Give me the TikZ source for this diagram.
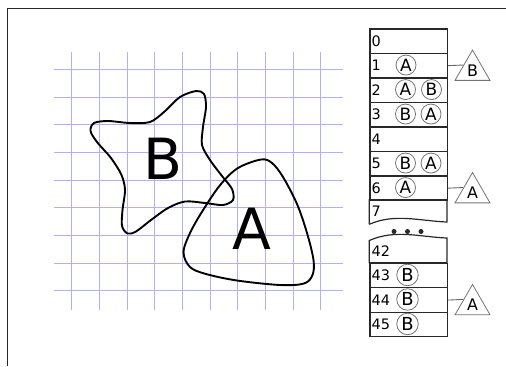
\documentclass[tikz,border=0pt]{standalone}
\usepackage{fontspec}
\setmainfont{DejaVu Sans}
\usetikzlibrary{shapes.geometric}
\definecolor{gridc}{RGB}{175,175,250}
\definecolor{tabc}{RGB}{40,40,40}
\tikzset{
  gridline/.style={draw=gridc, line width=1bp},
  blob/.style={draw=black, line width=1.9pt},
  bigletter/.style={inner sep=0pt, font=\fontsize{57}{57}\selectfont},
  cellbox/.style={draw=tabc, line width=1.2pt, minimum width=77.7bp, minimum height=24.5bp, inner sep=0pt, anchor=north west},
  tableline/.style={draw=tabc, line width=1.2pt},
  numlbl/.style={anchor=west, inner sep=0pt, font=\fontsize{14.5}{15}\selectfont},
  ball/.style={circle, draw=black!55, line width=0.8pt, minimum size=20bp, inner sep=0pt, font=\fontsize{17}{17}\selectfont},
  bigball/.style={ball, minimum size=21.5bp, font=\fontsize{18}{18}\selectfont},
  tri/.style={regular polygon, regular polygon sides=3, draw=black!55, line width=0.8pt, minimum size=40.4bp, inner sep=0pt, font=\fontsize{16}{16}\selectfont},
  link/.style={draw=black!60, line width=0.9pt},
  dotc/.style={circle, fill=tabc, minimum size=5bp, inner sep=0pt}
}
\begin{document}
\begin{tikzpicture}[x=1bp,y=-1bp]
\useasboundingbox (0,0) rectangle (506,366);
% frame
\draw[draw=tabc, line width=1bp] (7.5,366) -- (7.5,8.5) -- (506,8.5);
% grid
\foreach \x in {71.5,99.5,127.5,154.5,182.5,210.5,237.5,265.5,293.5,320.5}
  \draw[gridline] (\x,51.7) -- (\x,310);
\foreach \y in {69.5,97.5,124.5,152.5,180.5,207.5,235.5,263.5,290.5}
  \draw[gridline] (54,\y) -- (343,\y);
% star B
\draw[blob] plot[smooth cycle, tension=0.5] coordinates {
 (196,91) (180,97) (164,112) (150,122) (130,123) (108,121) (94,123) (90.5,131)
 (97,142) (111,158) (121.5,175) (125,190) (122.5,210) (122,226) (127.5,233.5) (136,231.5)
 (151,220) (168,208) (185,201.5) (205,203) (223,205) (233,200) (232,189) (222,176)
 (210,160) (202,145) (203,127) (206,107) (204,94)};
% rounded triangle A
\draw[blob] plot[smooth cycle, tension=0.55] coordinates {
 (261,159.5) (238,168) (221,184) (205,207) (191,231) (183.5,252) (190,267) (206,274)
 (237,280.5) (280,285) (304,283.5) (312.5,275) (313.5,260) (307,233) (297,204)
 (283,177) (272,163)};
\node[bigletter] (bigB) at (163.3,159) {B};
\node[bigletter] (bigA) at (251.7,229) {A};
% table upper block
\foreach \k in {0,...,6} \node[cellbox] (r\k) at (369.3,{28.3+24.5*\k}) {};
\draw[tableline] (369.3,224.3) -- (369.3,199.8) -- (447,199.8) -- (447,222)
  .. controls (420,221) and (395,213) .. (369.3,224.3);
\foreach \k in {0,...,6} \node[numlbl] (l\k) at ([xshift=2.2bp]r\k.west) {\k};
\node[numlbl] (l7) at (371.5,211.5) {7};
% dots
\node[dotc] (d1) at (394,231.5) {};
\node[dotc] (d2) at (407.5,231.5) {};
\node[dotc] (d3) at (421,231.5) {};
% lower block
\draw[tableline] (369.3,262.7) -- (369.3,240.5)
  .. controls (395,229) and (420,237) .. (447,238) -- (447,262.7) -- cycle;
\node[numlbl] (l42) at (371.5,251) {42};
\foreach \k/\n in {0/43,1/44,2/45} \node[cellbox] (r\n) at (369.3,{262.7+24.5*\k}) {};
\foreach \n in {43,44,45} \node[numlbl] (l\n) at ([xshift=2.2bp]r\n.west) {\n};
% circles
\node[ball] (c1a) at (406,65.05) {A};
\node[ball] (c2a) at (405.5,89.55) {A};
\node[ball] (c2b) at (431.5,89.55) {B};
\node[ball] (c3b) at (405.5,114.05) {B};
\node[ball] (c3a) at (431,114.05) {A};
\node[ball] (c5b) at (405.5,163.05) {B};
\node[ball] (c5a) at (431,163.05) {A};
\node[ball] (c6a) at (405.5,187.55) {A};
\node[bigball] (c43) at (407.5,274.95) {B};
\node[bigball] (c44) at (407.5,299.45) {B};
\node[bigball] (c45) at (407.5,323.95) {B};
% triangles
\node[tri] (t1) at (472.5,70.25) {B};
\node[tri] (t6) at (472.5,192.75) {A};
\node[tri] (t44) at (472.5,304.65) {A};
\draw[link] (r1.east) -- (t1.side 1);
\draw[link] (r6.east) -- (t6.side 1);
\draw[link] (r44.east) -- (t44.side 1);
\end{tikzpicture}
\end{document}
